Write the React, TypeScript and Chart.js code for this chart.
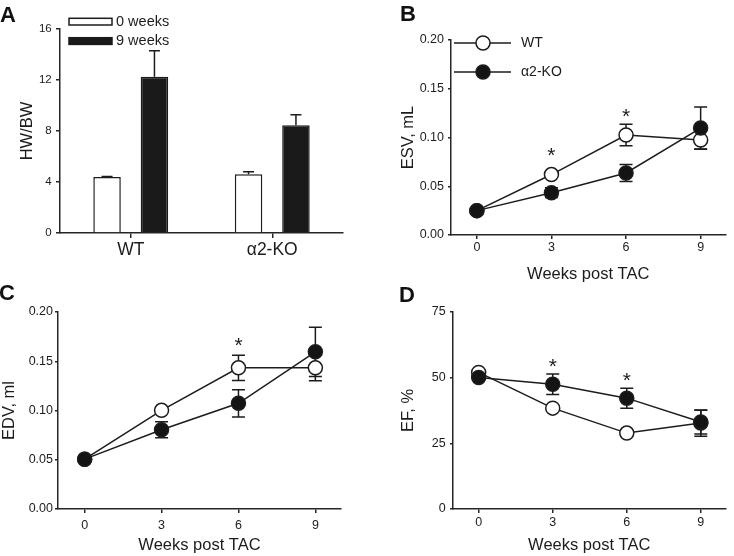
import React, { useEffect, useRef } from 'react';
import { Chart, registerables } from 'chart.js';

Chart.register(...registerables);

const FONT = '"Liberation Sans", Arial, Helvetica, sans-serif';
const INK = '#1c1c1c';
const AXIS = '#262626';

// ---------- Panel A : HW/BW bars ----------
const groups = ['WT', 'α2-KO'];
const legendA = ['0 weeks', '9 weeks'];
const hw0 = [4.39, 4.6];
const hw0Err = [0.05, 0.21];
const hw9 = [12.26, 8.45];
const hw9Err = [2.04, 0.83];
const hwTicks = [0, 4, 8, 12, 16];

// ---------- shared for B-D ----------
const weeks = [0, 3, 6, 9];
const seriesNames = ['WT', 'α2-KO'];
const xTitle = 'Weeks post TAC';

// ---------- Panel B : ESV ----------
const esvWT = [0.025, 0.062, 0.1026, 0.0974];
const esvWTErr = [0.002, 0.002, 0.011, 0.0095];
const esvKO = [0.025, 0.0434, 0.0636, 0.1097];
const esvKOErr = [0.002, 0.005, 0.0088, 0.0216];
const esvTicks = [0, 0.05, 0.1, 0.15, 0.2];
const esvStarX = [3, 6];
const esvStarY = [0.087, 0.127];

// ---------- Panel C : EDV ----------
const edvWT = [0.0506, 0.1002, 0.1433, 0.1433];
const edvWTErr = [0.002, 0.002, 0.0128, 0.013];
const edvKO = [0.0506, 0.0805, 0.1073, 0.1596];
const edvKOErr = [0.002, 0.0082, 0.0138, 0.025];
const edvTicks = [0, 0.05, 0.1, 0.15, 0.2];
const edvStarX = [6];
const edvStarY = [0.172];

// ---------- Panel D : EF ----------
const efWT = [52.0, 38.4, 28.9, 32.7];
const efWTErr = [0.8, 1.0, 1.2, 5.0];
const efKO = [50.1, 47.5, 42.2, 33.1];
const efKOErr = [1.0, 3.9, 3.8, 4.5];
const efTicks = [0, 25, 50, 75];
const efStarX = [3, 6];
const efStarY = [56.6, 51.0];

const pts = (xs: number[], ys: number[]) => xs.map((x, i) => ({ x, y: ys[i] }));

function drawErrorBars(chart: any, opts: any) {
  const { ctx } = chart;
  const yScale = chart.scales.y;
  chart.data.datasets.forEach((ds: any, di: number) => {
    if (!ds.errors) return;
    const meta = chart.getDatasetMeta(di);
    meta.data.forEach((el: any, i: number) => {
      const raw = ds.data[i];
      const v = typeof raw === 'number' ? raw : raw.y;
      const e = ds.errors[i];
      const x = el.x;
      const yHi = yScale.getPixelForValue(v + e);
      const yLo = yScale.getPixelForValue(opts.upOnly ? v : v - e);
      ctx.save();
      ctx.strokeStyle = opts.color;
      ctx.lineWidth = opts.width;
      ctx.beginPath();
      ctx.moveTo(x, yLo);
      ctx.lineTo(x, yHi);
      ctx.moveTo(x - opts.cap, yHi);
      ctx.lineTo(x + opts.cap, yHi);
      if (!opts.upOnly) {
        ctx.moveTo(x - opts.cap, yLo);
        ctx.lineTo(x + opts.cap, yLo);
      }
      ctx.stroke();
      ctx.restore();
    });
  });
}

const errorBarPlugin = {
  id: 'errorBars',
  beforeDatasetsDraw(chart: any, _a: any, opts: any) {
    if (opts.layer === 'before') drawErrorBars(chart, opts);
  },
  afterDatasetsDraw(chart: any, _a: any, opts: any) {
    if (opts.layer !== 'before') drawErrorBars(chart, opts);
  },
};

const starPlugin = {
  id: 'stars',
  afterDatasetsDraw(chart: any, _a: any, opts: any) {
    if (!opts.xs) return;
    const { ctx } = chart;
    const xs = chart.scales.x;
    const ys = chart.scales.y;
    ctx.save();
    ctx.fillStyle = INK;
    ctx.font = `${opts.size}px ${FONT}`;
    ctx.textAlign = 'center';
    ctx.textBaseline = 'alphabetic';
    opts.xs.forEach((xv: number, i: number) => {
      const px = xs.getPixelForValue(xv);
      const py = ys.getPixelForValue(opts.ys[i]);
      ctx.fillText('*', px, py + opts.size * 0.58);
    });
    ctx.restore();
  },
};

const lineLegendPlugin = {
  id: 'lineLegend',
  afterDraw(chart: any, _a: any, opts: any) {
    if (!opts.show) return;
    const { ctx, chartArea } = chart;
    opts.items.forEach((di: number, k: number) => {
      const ds = chart.data.datasets[di];
      const y = chartArea.top + opts.y0 + k * opts.dy;
      ctx.save();
      ctx.strokeStyle = ds.borderColor;
      ctx.lineWidth = ds.borderWidth;
      ctx.beginPath();
      ctx.moveTo(chartArea.left + opts.x0, y);
      ctx.lineTo(chartArea.left + opts.x1, y);
      ctx.stroke();
      ctx.beginPath();
      ctx.arc(chartArea.left + opts.xc, y, ds.pointRadius, 0, Math.PI * 2);
      ctx.fillStyle = ds.pointBackgroundColor;
      ctx.fill();
      ctx.lineWidth = ds.pointBorderWidth;
      ctx.strokeStyle = ds.pointBorderColor;
      ctx.stroke();
      ctx.fillStyle = INK;
      ctx.font = `${opts.size}px ${FONT}`;
      ctx.textAlign = 'left';
      ctx.textBaseline = 'middle';
      ctx.fillText(ds.label, chartArea.left + opts.xt, y);
      ctx.restore();
    });
  },
};

const barLegendPlugin = {
  id: 'barLegend',
  afterDraw(chart: any, _a: any, opts: any) {
    if (!opts.show) return;
    const { ctx, chartArea } = chart;
    chart.data.datasets.forEach((ds: any, k: number) => {
      const y = chartArea.top + opts.y0 + k * opts.dy;
      const x = chartArea.left + opts.x0;
      ctx.save();
      ctx.fillStyle = ds.backgroundColor;
      ctx.fillRect(x, y, opts.w, opts.h);
      ctx.strokeStyle = ds.borderColor;
      ctx.lineWidth = 1.5;
      ctx.strokeRect(x, y, opts.w, opts.h);
      ctx.fillStyle = INK;
      ctx.font = `${opts.size}px ${FONT}`;
      ctx.textAlign = 'left';
      ctx.textBaseline = 'middle';
      ctx.fillText(ds.label, chartArea.left + opts.xt, y + opts.h / 2);
      ctx.restore();
    });
  },
};

function makeBarChart(canvas: HTMLCanvasElement) {
  return new Chart(canvas, {
    type: 'bar',
    data: {
      labels: groups,
      datasets: [
        {
          label: legendA[0],
          data: hw0,
          errors: hw0Err,
          backgroundColor: '#ffffff',
          borderColor: INK,
          borderWidth: 1.5,
          categoryPercentage: 0.67,
          barPercentage: 0.58,
        } as any,
        {
          label: legendA[1],
          data: hw9,
          errors: hw9Err,
          backgroundColor: '#1a1a1a',
          borderColor: '#1a1a1a',
          borderWidth: 1.5,
          categoryPercentage: 0.67,
          barPercentage: 0.58,
        } as any,
      ],
    },
    options: {
      animation: false,
      responsive: false,
      events: [],
      layout: { padding: { left: 0, top: 29, right: 24, bottom: 0 } },
      plugins: {
        legend: { display: false },
        tooltip: { enabled: false },
        errorBars: { layer: 'after', upOnly: true, cap: 5.5, width: 1.5, color: INK },
        barLegend: { show: true, x0: 9, y0: -10.7, dy: 19.4, w: 43, h: 6.7, xt: 56, size: 14.5 },
      } as any,
      scales: {
        x: {
          grid: { display: true, drawOnChartArea: false, offset: false, tickLength: 5, color: AXIS, lineWidth: 1.5 },
          border: { display: true, color: AXIS, width: 1.5 },
          ticks: { color: INK, padding: 1.5, font: { family: FONT, size: 17.5 } },
          afterFit: (s: any) => { s.height = 45; },
        },
        y: {
          min: 0,
          max: 16,
          afterBuildTicks: (ax: any) => { ax.ticks = hwTicks.map((v) => ({ value: v })); },
          grid: { display: true, drawOnChartArea: false, tickLength: 4, color: AXIS, lineWidth: 1.5 },
          border: { display: true, color: AXIS, width: 1.5 },
          ticks: { color: INK, padding: 4.3, font: { family: FONT, size: 11.5 } },
          title: { display: true, text: 'HW/BW', color: INK, font: { family: FONT, size: 16.5 }, padding: { top: 17.7, bottom: 0 } },
          afterFit: (s: any) => { s.width = 60; },
        },
      },
    },
    plugins: [errorBarPlugin, barLegendPlugin],
  } as any);
}

type LineCfg = {
  wt: number[]; wtErr: number[]; ko: number[]; koErr: number[];
  ticks: number[]; yMax: number; yTitle: string; digits: number;
  starX: number[]; starY: number[];
  pad: { left: number; top: number; right: number; bottom: number };
  yW: number; xH: number; yTitlePad: number; yTickPad: number; xTickPad: number; xTitlePad: number;
  tickSize: number; legend: boolean;
};

function makeLineChart(canvas: HTMLCanvasElement, c: LineCfg) {
  const common = {
    borderColor: INK,
    borderWidth: 1.5,
    pointRadius: 7,
    pointBorderWidth: 1.5,
    pointBorderColor: INK,
    tension: 0,
    clip: false,
  };
  return new Chart(canvas, {
    type: 'line',
    data: {
      datasets: [
        { ...common, label: seriesNames[0], data: pts(weeks, c.wt), errors: c.wtErr, pointBackgroundColor: '#ffffff', backgroundColor: '#ffffff', order: 1 } as any,
        { ...common, label: seriesNames[1], data: pts(weeks, c.ko), errors: c.koErr, pointBackgroundColor: '#141414', backgroundColor: '#141414', order: 0 } as any,
      ],
    },
    options: {
      animation: false,
      responsive: false,
      events: [],
      layout: { padding: c.pad },
      plugins: {
        legend: { display: false },
        tooltip: { enabled: false },
        errorBars: { layer: 'before', upOnly: false, cap: 6.5, width: 1.5, color: INK },
        stars: { xs: c.starX, ys: c.starY, size: 21 },
        lineLegend: { show: c.legend, items: [0, 1], x0: 3, x1: 60, xc: 32, xt: 70, y0: 3, dy: 29, size: 14 },
      } as any,
      scales: {
        x: {
          type: 'linear',
          min: -1.04,
          max: 10,
          afterBuildTicks: (ax: any) => { ax.ticks = weeks.map((v) => ({ value: v })); },
          grid: { display: true, drawOnChartArea: false, tickLength: 4, color: AXIS, lineWidth: 1.5 },
          border: { display: true, color: AXIS, width: 1.5 },
          ticks: { color: INK, padding: c.xTickPad, font: { family: FONT, size: c.tickSize }, callback: (v: any) => String(v) },
          title: { display: true, text: xTitle, color: INK, font: { family: FONT, size: 16.5 }, padding: { top: 0, bottom: c.xTitlePad } },
          afterFit: (s: any) => { s.height = c.xH; },
        },
        y: {
          min: 0,
          max: c.yMax,
          afterBuildTicks: (ax: any) => { ax.ticks = c.ticks.map((v) => ({ value: v })); },
          grid: { display: true, drawOnChartArea: false, tickLength: 3, color: AXIS, lineWidth: 1.5 },
          border: { display: true, color: AXIS, width: 1.5 },
          ticks: { color: INK, padding: c.yTickPad, font: { family: FONT, size: c.tickSize }, callback: (v: any) => Number(v).toFixed(c.digits) },
          title: { display: true, text: c.yTitle, color: INK, font: { family: FONT, size: 16.5 }, padding: { top: c.yTitlePad, bottom: 0 } },
          afterFit: (s: any) => { s.width = c.yW; },
        },
      },
    },
    plugins: [errorBarPlugin, starPlugin, lineLegendPlugin],
  } as any);
}

function ChartCanvas(props: { left: number; top: number; width: number; height: number; make: (c: HTMLCanvasElement) => Chart }) {
  const ref = useRef<HTMLCanvasElement>(null);
  useEffect(() => {
    if (!ref.current) return;
    const chart = props.make(ref.current);
    return () => chart.destroy();
  }, []);
  return (
    <canvas
      ref={ref}
      width={props.width}
      height={props.height}
      style={{ position: 'absolute', left: props.left, top: props.top, width: props.width, height: props.height }}
    />
  );
}

const letterStyle = (left: number, top: number): React.CSSProperties => ({
  position: 'absolute',
  left,
  top,
  fontFamily: FONT,
  fontWeight: 'bold',
  fontSize: 22,
  lineHeight: '22px',
  color: '#111',
});

export default function App() {
  return (
    <div style={{ position: 'absolute', left: 0, top: 0, width: 734, height: 556, background: '#ffffff', overflow: 'hidden' }}>
      <ChartCanvas left={0} top={0} width={367} height={278} make={makeBarChart} />
      <ChartCanvas
        left={367}
        top={0}
        width={367}
        height={292}
        make={(cv) =>
          makeLineChart(cv, {
            wt: esvWT, wtErr: esvWTErr, ko: esvKO, koErr: esvKOErr,
            ticks: esvTicks, yMax: 0.2, yTitle: 'ESV, mL', digits: 2,
            starX: esvStarX, starY: esvStarY,
            pad: { left: 0, top: 40, right: 5, bottom: 0 },
            yW: 84, xH: 57, yTitlePad: 32, yTickPad: 4, xTickPad: 1, xTitlePad: 7.5,
            tickSize: 12.5, legend: true,
          })
        }
      />
      <ChartCanvas
        left={0}
        top={290}
        width={367}
        height={266}
        make={(cv) =>
          makeLineChart(cv, {
            wt: edvWT, wtErr: edvWTErr, ko: edvKO, koErr: edvKOErr,
            ticks: edvTicks, yMax: 0.2, yTitle: 'EDV, ml', digits: 2,
            starX: edvStarX, starY: edvStarY,
            pad: { left: 0, top: 22, right: 26, bottom: 0 },
            yW: 58, xH: 47, yTitlePad: 0, yTickPad: 2, xTickPad: 5, xTitlePad: 0.5,
            tickSize: 12.5, legend: false,
          })
        }
      />
      <ChartCanvas
        left={367}
        top={290}
        width={367}
        height={266}
        make={(cv) =>
          makeLineChart(cv, {
            wt: efWT, wtErr: efWTErr, ko: efKO, koErr: efKOErr,
            ticks: efTicks, yMax: 75, yTitle: 'EF, %', digits: 0,
            starX: efStarX, starY: efStarY,
            pad: { left: 0, top: 22, right: 2, bottom: 0 },
            yW: 86, xH: 47, yTitlePad: 32, yTickPad: 4.4, xTickPad: 2.5, xTitlePad: 0.5,
            tickSize: 12.5, legend: false,
          })
        }
      />
      <div style={letterStyle(0, 4)}>A</div>
      <div style={letterStyle(400, 3)}>B</div>
      <div style={letterStyle(-1, 282)}>C</div>
      <div style={letterStyle(399, 284)}>D</div>
    </div>
  );
}
